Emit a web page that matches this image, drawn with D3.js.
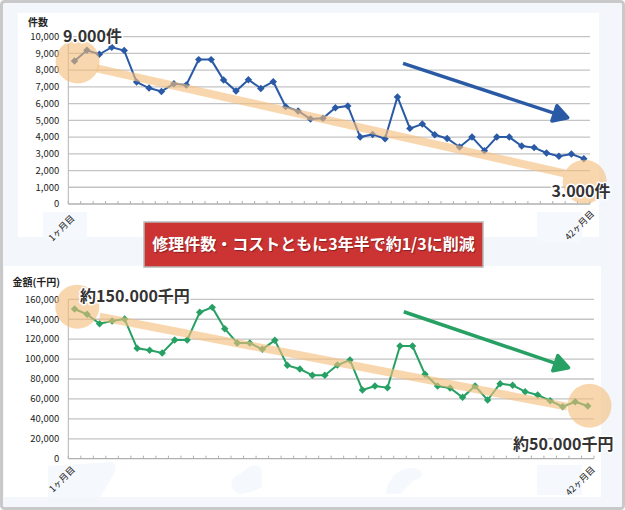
<!DOCTYPE html>
<html><head><meta charset="utf-8">
<script src="https://cdn.jsdelivr.net/npm/d3@7"></script>
<style>
body{margin:0;background:#fff;}
svg{display:block;font-family:"Noto Sans CJK JP","Noto Sans",sans-serif;}
</style></head><body>
<svg id="c" width="625" height="510"></svg>
<script>
// ---------- data ----------
const months = d3.range(1, 43).map(m => m + "ヶ月目");
const xTickLabels = ["1ヶ月目", "42ヶ月目"];
const repairCounts = [8550,9190,8950,9370,9170,7290,6930,6730,7190,7110,8630,8630,7410,6750,7430,6910,7310,5820,5560,5080,
  5120,5760,5860,4000,4160,3900,6400,4520,4780,4140,3920,3410,4000,3190,4000,4000,3470,3370,3050,2850,2990,2710];
const costs = [150300,144900,135500,138200,140200,110800,108800,106100,119100,119100,146900,151900,130500,116100,116100,109800,118800,93700,90000,83700,
  83700,94000,99100,69000,73000,71300,113100,113100,84700,73000,71000,61600,73000,58900,75300,73700,67300,63900,58200,52200,57200,52900];
const countTicks = [0,1000,2000,3000,4000,5000,6000,7000,8000,9000,10000];
const costTicks = [0,20000,40000,60000,80000,100000,120000,140000,160000];
// trend band [startIndex, startValue, endIndex, endValue]
const countTrend = [1.8, 8110, 39.45, 1835];
const costTrend = [2.0, 142500, 39.36, 52200];
// highlight circles [index, value]
const countCircles = [[0.25, 8520], [41.07, 1330]];
const costCircles = [[0.22, 152600], [41.14, 53100]];
// arrows [startIndex, startValue, endIndex, endValue]
const countArrow = [26.45, 8410, 39.86, 5120];
const costArrow = [26.3, 147500, 39.62, 90700];
const titles = ["件数", "金額(千円)"];
const callouts = ["9.000件", "3.000件", "約150.000千円", "約50.000千円"];
const banner = "修理件数・コストともに3年半で約1/3に削減";

// ---------- frame ----------
const svg = d3.select("#c");
svg.append("rect").attr("x",1.5).attr("y",1.5).attr("width",622).attr("height",507)
  .attr("rx",3).attr("fill","#f3f7fc").attr("stroke","#c9c9c9").attr("stroke-width",3);
svg.append("rect").attr("x",18).attr("y",13).attr("width",581).attr("height",224).attr("fill","#fff");
svg.append("rect").attr("x",4).attr("y",266).attr("width",597).attr("height",231).attr("fill","#fff");
// faint decorations
const deco = svg.append("g").attr("fill","#f5f8fc");
deco.append("rect").attr("x",43).attr("y",212).attr("width",44).attr("height",28);
deco.append("rect").attr("x",537).attr("y",212).attr("width",45).attr("height",31);
deco.append("path").attr("d","M48,466 L112,462 Q118,466 114,474 L100,497 L48,497 Z");
deco.append("rect").attr("x",537).attr("y",465).attr("width",45).attr("height",30);
deco.append("path").attr("d","M232,488 Q229,478 240,474 L250,466 Q262,463 262,474 L262,487 Q250,494 238,494 Z");
deco.append("path").attr("d","M386,494 Q386,482 398,472 Q410,465 420,470 Q426,477 414,480 L400,494 Z");

const fmt = d3.format(",");

function drawChart(cfg) {
  const g = svg.append("g");
  const x = d3.scaleBand().domain(d3.range(cfg.data.length)).range(cfg.xRange);
  const y = d3.scaleLinear().domain([0, d3.max(cfg.ticks)]).range(cfg.yRange);
  const cx = i => cfg.xRange[0] + (i + 0.5) * x.step();
  // gridlines
  g.selectAll("line.grid").data(cfg.ticks.slice(1)).join("line").attr("class", "grid")
    .attr("x1", cfg.xRange[0]).attr("x2", cfg.xRange[1])
    .attr("y1", d => y(d)).attr("y2", d => y(d))
    .attr("stroke", "#c4c4c4").attr("stroke-width", 1.3);
  // y axis line
  g.append("line").attr("x1", cfg.xRange[0]).attr("x2", cfg.xRange[0])
    .attr("y1", y(d3.max(cfg.ticks))).attr("y2", y(0)).attr("stroke", "#b5b5b5");
  // x axis line + ticks
  g.append("line").attr("x1", cfg.xRange[0]).attr("x2", cfg.xRange[1])
    .attr("y1", y(0)).attr("y2", y(0)).attr("stroke", "#b0b0b0").attr("stroke-width", 1.3);
  const tickPos = d3.range(cfg.data.length + 1).map(i => cfg.xRange[0] + i * x.step());
  g.selectAll("line.xt").data(tickPos).join("line").attr("class", "xt")
    .attr("x1", d => d).attr("x2", d => d).attr("y1", y(0)).attr("y2", y(0) - 3)
    .attr("stroke", "#b0b0b0");
  // y tick labels
  g.selectAll("text.yt").data(cfg.ticks).join("text").attr("class", "yt")
    .attr("x", cfg.xRange[0] - 9).attr("y", d => y(d)).attr("dy", "0.35em")
    .attr("text-anchor", "end").attr("font-size", 9.5).attr("fill", "#222")
    .text(d => fmt(d));
  // axis title
  g.append("text").attr("x", cfg.titlePos[0]).attr("y", cfg.titlePos[1])
    .attr("font-size", 10).attr("font-weight", "bold").attr("fill", "#222").text(cfg.title);
  // x tick labels (rotated)
  const idx = [0, cfg.data.length - 1];
  g.selectAll("g.xl").data(xTickLabels).join("g").attr("class", "xl")
    .attr("transform", (d, i) => `translate(${cx(idx[i]) + cfg.labOff[i][0]},${y(0) + cfg.labOff[i][1]}) rotate(-45)`)
    .append("text")
    .attr("text-anchor", "end").attr("font-size", 9).attr("fill", "#222").text(d => d);
  // data line
  g.append("path").datum(cfg.data)
    .attr("d", d3.line().x((d, i) => cx(i)).y(d => y(d)))
    .attr("fill", "none").attr("stroke", cfg.color).attr("stroke-width", 2);
  g.selectAll("path.pt").data(cfg.data).join("path").attr("class", "pt")
    .attr("d", d3.symbol(d3.symbolSquare, 28)())
    .attr("transform", (d, i) => `translate(${cx(i)},${y(d)}) rotate(45)`)
    .attr("fill", cfg.color);
  // trend band
  const t = cfg.trend;
  g.append("line").attr("x1", cx(t[0])).attr("y1", y(t[1])).attr("x2", cx(t[2])).attr("y2", y(t[3]))
    .attr("stroke", "#f6bf7c").attr("stroke-opacity", 0.62).attr("stroke-width", 8);
  // circles
  g.selectAll("circle.hl").data(cfg.circles).join("circle").attr("class", "hl")
    .attr("cx", d => cx(d[0])).attr("cy", d => y(d[1])).attr("r", 22)
    .attr("fill", "#f5bd78").attr("fill-opacity", 0.6);
  // arrow
  const a = cfg.arrow;
  const x1 = cx(a[0]), y1 = y(a[1]), x2 = cx(a[2]), y2 = y(a[3]);
  const len = Math.hypot(x2 - x1, y2 - y1), ux = (x2 - x1) / len, uy = (y2 - y1) / len;
  const L = 16, hw = 8;
  const bx = x2 - ux * L, by = y2 - uy * L;
  g.append("line").attr("x1", x1).attr("y1", y1).attr("x2", bx + ux * 2).attr("y2", by + uy * 2)
    .attr("stroke", cfg.color).attr("stroke-width", 3.5);
  g.append("path")
    .attr("d", `M${x2 - ux * 2},${y2 - uy * 2} L${bx - uy * hw},${by + ux * hw} L${bx + uy * hw},${by - ux * hw} Z`)
    .attr("fill", cfg.color).attr("stroke", cfg.color).attr("stroke-width", 3.5).attr("stroke-linejoin", "round");
  // callouts
  g.selectAll("text.co").data(cfg.callouts).join("text").attr("class", "co")
    .attr("x", d => d.x).attr("y", d => d.y)
    .attr("font-size", 16).attr("font-weight", "bold").attr("fill", "#333")
    .attr("stroke", "#fff").attr("stroke-width", 3).attr("stroke-linejoin", "round")
    .attr("paint-order", "stroke").text(d => d.t);
  return { x, y, cx };
}

drawChart({
  data: repairCounts, ticks: countTicks, xRange: [68.3, 590], yRange: [204, 36.7],
  color: "#2a5aa5", trend: countTrend, circles: countCircles, arrow: countArrow,
  title: titles[0], titlePos: [28, 26], labOff: [[0.5, 15], [11, 10.5]],
  callouts: [{ t: callouts[0], x: 63, y: 41.5 }, { t: callouts[1], x: 551.5, y: 196.5 }]
});
drawChart({
  data: costs, ticks: costTicks, xRange: [68.3, 594], yRange: [458.7, 299.3],
  color: "#27a064", trend: costTrend, circles: costCircles, arrow: costArrow,
  title: titles[1], titlePos: [12.5, 286], labOff: [[1, 11.5], [8, 11.5]],
  callouts: [{ t: callouts[2], x: 80, y: 301.5 }, { t: callouts[3], x: 513, y: 449.5 }]
});

// banner
svg.append("rect").attr("x", 144).attr("y", 222).attr("width", 339).attr("height", 45)
  .attr("fill", "#cc3333").attr("stroke", "#b8b8b8").attr("stroke-width", 1.5);
svg.append("text").attr("x", 313.5).attr("y", 250).attr("text-anchor", "middle")
  .attr("font-size", 16).attr("font-weight", "bold").attr("fill", "#fff")
  .style("text-shadow", "1px 1px 1px rgba(0,0,0,0.35)").text(banner);
</script></body></html>
